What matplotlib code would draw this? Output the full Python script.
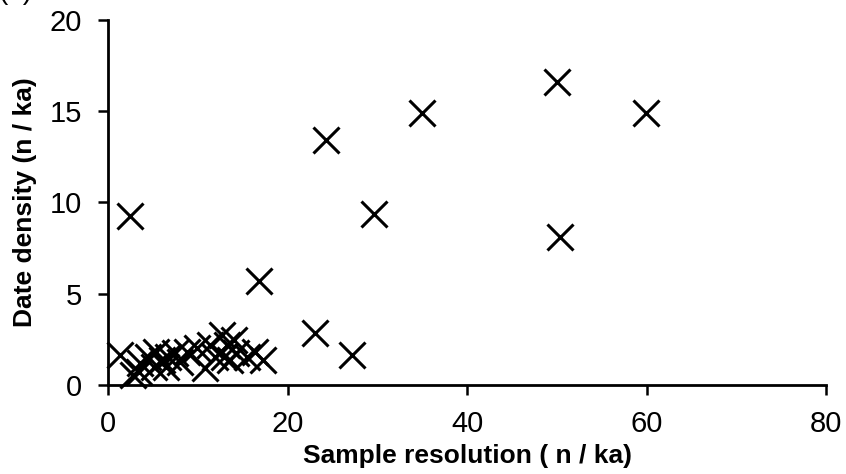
import numpy as np
import matplotlib.pyplot as plt

# sample resolution (n / ka) vs date density (n / ka)
res = [1.3, 3.6, 3.4, 2.8, 4.5, 5.4, 5.1, 6.0, 6.7, 7.5, 8.0, 6.5, 8.8, 9.9,
       10.8, 11.4, 11.9, 12.7, 13.2, 12.9, 14.0, 14.3, 13.6, 15.5, 16.4, 17.3,
       2.5, 16.8, 23.1, 27.2, 29.6, 24.3, 35.0, 50.0, 59.9, 50.4]
density = [1.64, 1.2, 0.73, 0.55, 1.55, 1.83, 1.0, 1.37, 1.55, 1.74, 1.28, 1.0,
           1.83, 2.0, 0.91, 2.19, 1.55, 2.74, 2.19, 1.55, 2.47, 1.74, 1.37, 1.55,
           1.83, 1.37, 9.26, 5.7, 2.87, 1.64, 9.35, 13.4, 14.9, 16.6, 14.9, 8.1]

plt.rcParams['font.family'] = 'Liberation Sans'

fig = plt.figure(figsize=(8.46, 4.74), dpi=100)
ax = fig.add_axes([0.1277, 0.1878, 0.8487, 0.77])

ax.plot(res, density, linestyle='none', marker='x', markersize=18.5,
        markeredgewidth=2.2, color='black', clip_on=False)

ax.set_xlim(0, 80)
ax.set_ylim(0, 20)
ax.set_xticks([0, 20, 40, 60, 80])
ax.set_yticks([0, 5, 10, 15, 20])
ax.tick_params(direction='out', length=7, width=1.8, labelsize=21, color='black')
ax.tick_params(axis='x', pad=11)
ax.tick_params(axis='y', pad=12)
for s in ['top', 'right']:
    ax.spines[s].set_visible(False)
for s in ['left', 'bottom']:
    ax.spines[s].set_linewidth(2)

ax.set_xlabel('Sample resolution ( n / ka)', fontsize=19, fontweight='bold', labelpad=4)
ax.set_ylabel('Date density (n / ka)', fontsize=19, fontweight='bold', labelpad=9)

# panel letter, mostly above the top edge
fig.text(-0.002, 1 + 1.0 / 474, '(b)', fontsize=20, va='baseline', ha='left')

fig.savefig('out.png', dpi=100)
